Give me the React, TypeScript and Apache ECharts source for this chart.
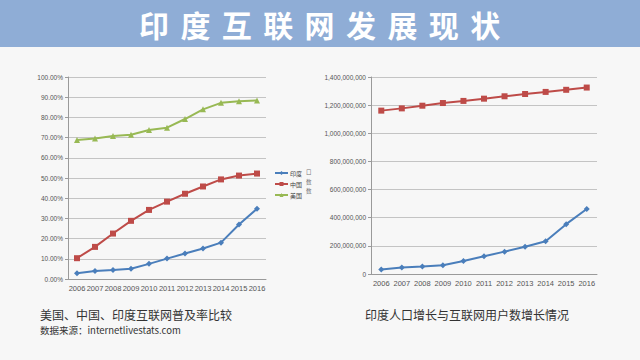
import React, { useEffect, useRef } from "react";
import * as echarts from "echarts";

const years = ["2006", "2007", "2008", "2009", "2010", "2011", "2012", "2013", "2014", "2015", "2016"];
const indiaRate = [2.8, 4.0, 4.4, 5.1, 7.5, 10.1, 12.6, 15.1, 18.0, 27.0, 34.8];
const chinaRate = [10.3, 15.9, 22.5, 28.8, 34.2, 38.3, 42.2, 45.8, 49.3, 51.2, 52.2];
const usaRate = [68.8, 69.5, 70.8, 71.4, 73.8, 74.9, 79.2, 84.0, 87.2, 88.0, 88.4];
const indiaPopulation = [1161000000, 1177000000, 1196000000, 1215000000, 1230000000, 1246000000, 1263000000, 1279000000, 1294000000, 1309000000, 1325000000];
const indiaUsers = [32000000, 46600000, 52900000, 62200000, 92300000, 125600000, 159000000, 193200000, 233200000, 354100000, 462100000];
const legendNames = ["印度", "中国", "美国"];
const titleText = "印度互联网发展现状";

const BLUE = "#4a7ebb";
const RED = "#be4b48";
const GREEN = "#98b954";
const AXIS = "#9a9a9a";
const GRID = "#c4c4c4";
const LABEL = "#555555";

export default function App() {
  const ref = useRef<HTMLDivElement>(null);
  useEffect(() => {
    if (!ref.current) return;
    const chart = echarts.init(ref.current, undefined, { renderer: "svg" });
    const xAxisBase = {
      type: "category" as const,
      data: years,
      axisLine: { lineStyle: { color: AXIS } },
      axisTick: { lineStyle: { color: AXIS }, length: 3 },
      axisLabel: { color: LABEL, fontSize: 7.5, margin: 5, interval: 0, hideOverlap: false, fontFamily: "Arial, Liberation Sans" },
    };
    const yBase = {
      type: "value" as const,
      axisLine: { show: true, lineStyle: { color: AXIS } },
      axisTick: { show: true, lineStyle: { color: AXIS }, length: 3 },
      splitLine: { lineStyle: { color: GRID } },
      axisLabel: { color: LABEL, fontSize: 6.5, margin: 5, fontFamily: "Arial, Liberation Sans" },
    };
    const titleChars = titleText.split("").map((ch, i) => ({
      type: "text",
      x: 154 + i * 41.4,
      y: 24,
      style: {
        text: ch,
        fill: "#ffffff",
        font: "bold 30px 'Noto Sans CJK SC'",
        textAlign: "center",
        textVerticalAlign: "middle",
      },
    }));
    chart.setOption({
      animation: false,
      backgroundColor: "#f7f7f7",
      textStyle: { fontFamily: "Noto Sans CJK SC, Arial" },
      grid: [
        { left: 68, top: 77, width: 198, height: 202 },
        { left: 371, top: 77, width: 226, height: 197 },
      ],
      legend: {
        data: legendNames,
        orient: "vertical",
        left: 274,
        top: 170,
        itemWidth: 13,
        itemHeight: 5,
        itemGap: 5,
        padding: 0,
        textStyle: { fontSize: 6, color: "#444", padding: [0, 0, 0, -3] },
      },
      xAxis: [
        { ...xAxisBase, gridIndex: 0 },
        { ...xAxisBase, gridIndex: 1 },
      ],
      yAxis: [
        {
          ...yBase,
          gridIndex: 0,
          min: 0,
          max: 100,
          interval: 10,
          axisLabel: { ...yBase.axisLabel, formatter: (v: number) => v.toFixed(2) + "%" },
        },
        {
          ...yBase,
          gridIndex: 1,
          min: 0,
          max: 1400000000,
          interval: 200000000,
          axisLabel: { ...yBase.axisLabel, formatter: (v: number) => v.toLocaleString("en-US") },
        },
      ],
      series: [
        { name: "印度", type: "line", xAxisIndex: 0, yAxisIndex: 0, data: indiaRate, symbol: "diamond", symbolSize: 6, color: BLUE, lineStyle: { width: 2 } },
        { name: "中国", type: "line", xAxisIndex: 0, yAxisIndex: 0, data: chinaRate, symbol: "rect", symbolSize: 6, color: RED, lineStyle: { width: 2 } },
        { name: "美国", type: "line", xAxisIndex: 0, yAxisIndex: 0, data: usaRate, symbol: "triangle", symbolSize: 6, color: GREEN, lineStyle: { width: 2 } },
        { name: "印度人口", type: "line", xAxisIndex: 1, yAxisIndex: 1, data: indiaPopulation, symbol: "rect", symbolSize: 6, color: RED, lineStyle: { width: 2 } },
        { name: "印度互联网用户数", type: "line", xAxisIndex: 1, yAxisIndex: 1, data: indiaUsers, symbol: "diamond", symbolSize: 6, color: BLUE, lineStyle: { width: 2 } },
      ],
      graphic: [
        { type: "rect", shape: { x: 0, y: 0, width: 640, height: 47 }, style: { fill: "#8fadd6" }, z: 0 },
        ...titleChars,
        {
          type: "text",
          x: 40,
          y: 314,
          style: { text: "美国、中国、印度互联网普及率比较", fill: "#333", font: "12px 'Noto Sans CJK SC'", textVerticalAlign: "middle" },
        },
        {
          type: "text",
          x: 40,
          y: 330,
          style: { text: "数据来源：internetlivestats.com", fill: "#333", font: "9.5px 'Noto Sans CJK SC'", textVerticalAlign: "middle" },
        },
        {
          type: "text",
          x: 365,
          y: 314,
          style: { text: "印度人口增长与互联网用户数增长情况", fill: "#333", font: "12px 'Noto Sans CJK SC'", textVerticalAlign: "middle" },
        },
        { type: "text", x: 306, y: 172, style: { text: "口", fill: "#777", font: "5.5px 'Noto Sans CJK SC'", textVerticalAlign: "middle" } },
        { type: "text", x: 306, y: 182, style: { text: "数", fill: "#777", font: "5.5px 'Noto Sans CJK SC'", textVerticalAlign: "middle" } },
        { type: "text", x: 306, y: 191, style: { text: "数", fill: "#777", font: "5.5px 'Noto Sans CJK SC'", textVerticalAlign: "middle" } },
      ],
    });
    return () => chart.dispose();
  }, []);
  return <div ref={ref} style={{ position: "fixed", left: 0, top: 0, width: 640, height: 360 }} />;
}
